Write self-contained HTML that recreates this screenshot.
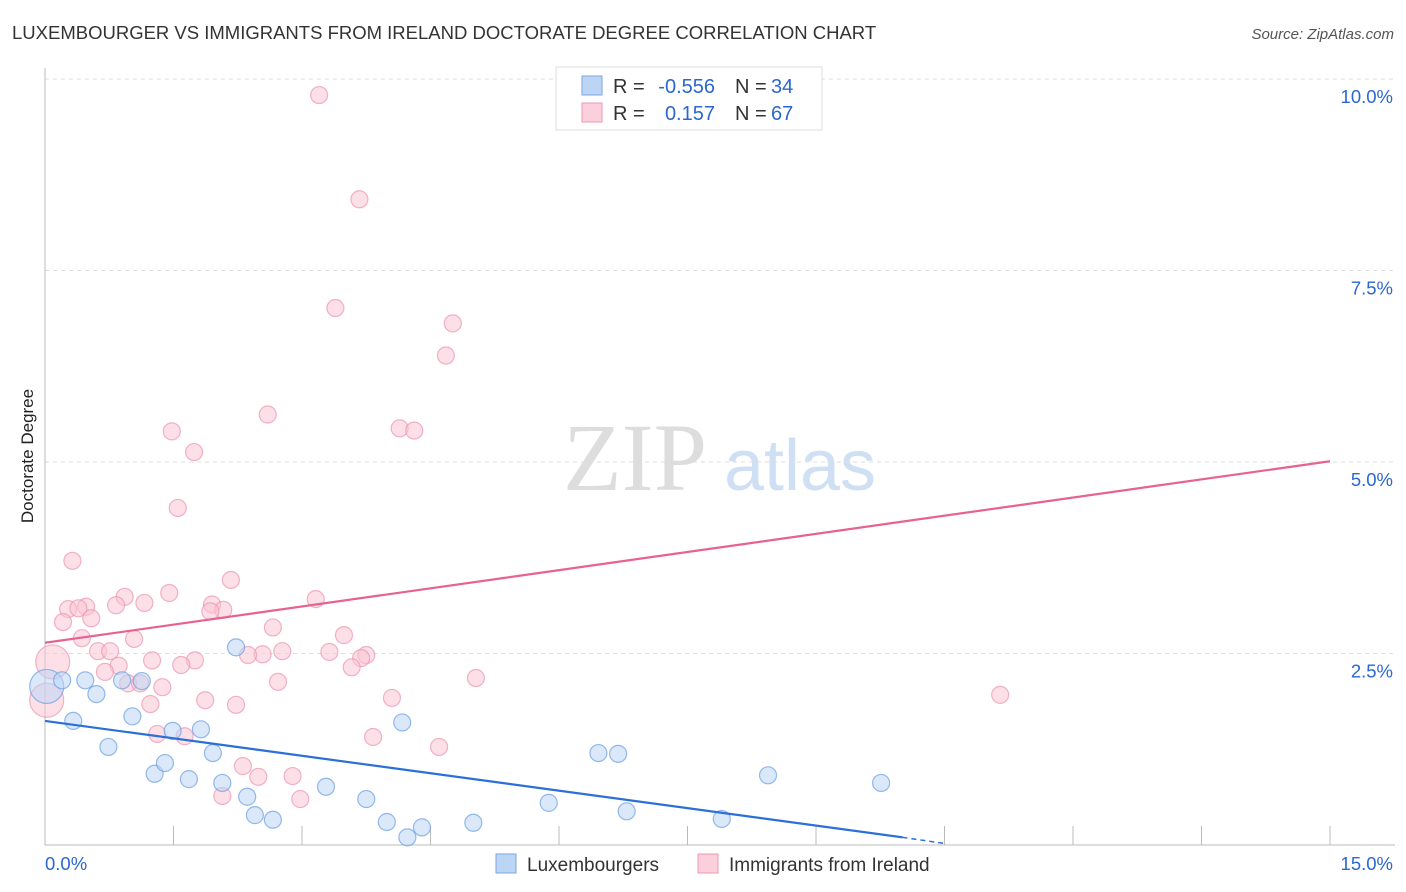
<!DOCTYPE html>
<html><head><meta charset="utf-8"><style>
body{margin:0;background:#fff;font-family:"Liberation Sans",sans-serif;}
#wrap{position:relative;width:1406px;height:892px;overflow:hidden;}
</style></head><body><div id="wrap">
<svg id="svg" width="1406" height="892">
<text x="12" y="39" font-size="18.5" fill="#333">LUXEMBOURGER VS IMMIGRANTS FROM IRELAND DOCTORATE DEGREE CORRELATION CHART</text>
<text x="1394" y="39" font-size="15" fill="#555" font-style="italic" text-anchor="end">Source: ZipAtlas.com</text>
<text x="0" y="0" transform="translate(33,456) rotate(-90)" font-size="17" fill="#222" text-anchor="middle">Doctorate Degree</text>
<g><text x="635" y="490" font-size="96" fill="#ddd" font-family="Liberation Serif,serif" text-anchor="middle">ZIP</text><text x="800" y="490" font-size="72" fill="#cfe0f5" text-anchor="middle">atlas</text></g>
<g id="grid"></g><g id="axes"></g><g id="pts"></g><g id="lines"></g>
<g>
<rect x="556" y="67" width="266" height="63" fill="#fff" stroke="#ddd"/>
<rect x="582" y="76" width="20" height="19" fill="#bcd5f5" stroke="#7aa7e0"/>
<rect x="582" y="103" width="20" height="19" fill="#fccfdc" stroke="#eb9ab3"/>
<g font-size="20" fill="#333">
<text x="613" y="93">R =</text><text x="715" y="93" text-anchor="end" fill="#2b67d0">-0.556</text>
<text x="735" y="93">N =</text><text x="771" y="93" fill="#2b67d0">34</text>
<text x="613" y="120">R =</text><text x="715" y="120" text-anchor="end" fill="#2b67d0">0.157</text>
<text x="735" y="120">N =</text><text x="771" y="120" fill="#2b67d0">67</text>
</g>
</g>
<g>
<rect x="496" y="854" width="20" height="19" fill="#bcd5f5" stroke="#7aa7e0"/>
<text x="527" y="871" font-size="19" fill="#333">Luxembourgers</text>
<rect x="698" y="854" width="20" height="19" fill="#fccfdc" stroke="#eb9ab3"/>
<text x="729" y="871" font-size="19" fill="#333">Immigrants from Ireland</text>
</g>
</svg></div>
<script>
const blueX=[0.02,0.20,0.47,0.60,0.33,0.74,1.02,0.90,1.13,1.28,1.40,1.49,1.68,1.82,1.96,2.07,2.23,2.36,2.45,2.66,3.28,3.75,3.99,4.17,4.23,4.40,5.00,5.88,6.46,6.69,6.79,7.90,8.44,9.76];
const blueY=[2.07,2.15,2.15,1.97,1.62,1.28,1.68,2.15,2.14,0.93,1.07,1.49,0.86,1.51,1.20,0.81,2.58,0.63,0.39,0.33,0.76,0.60,0.30,1.60,0.10,0.23,0.29,0.55,1.20,1.19,0.44,0.34,0.91,0.81];
const blueBig=[0];
const pinkX=[3.20,3.67,3.39,4.76,4.68,2.60,1.48,1.74,4.14,4.31,1.55,0.32,2.17,1.45,0.93,0.83,1.16,0.27,0.48,0.39,1.95,2.08,1.93,3.16,0.21,0.54,2.66,0.43,1.04,3.49,0.62,0.76,0.09,2.54,2.37,2.77,3.32,3.75,3.69,1.25,1.75,1.59,0.86,0.70,3.58,5.03,2.72,0.97,1.11,1.37,11.15,4.05,1.87,1.23,2.23,0.02,1.31,1.63,3.83,4.60,2.31,2.49,2.89,2.07,2.98];
const pinkY=[9.79,8.43,7.01,6.81,6.39,5.62,5.40,5.13,5.44,5.41,4.40,3.71,3.46,3.29,3.24,3.13,3.16,3.08,3.11,3.09,3.14,3.07,3.05,3.21,2.91,2.96,2.84,2.70,2.69,2.74,2.53,2.53,2.39,2.49,2.48,2.53,2.52,2.48,2.44,2.41,2.41,2.35,2.34,2.26,2.32,2.18,2.13,2.11,2.11,2.06,1.96,1.92,1.89,1.84,1.83,1.89,1.45,1.42,1.41,1.28,1.03,0.89,0.90,0.64,0.60];
const pinkBig=[32,55];
const yTicks=[2.5,5.0,7.5,10.0];
const xTickLabels=["0.0%","15.0%"];
const pinkTrend=[2.64,5.01];
const blueTrend=[1.62,0.10,0.02];
const blueTrendX=[0,10.01,10.5];

const NS="http://www.w3.org/2000/svg";
const X0=45,X1=1330,YB=845,YT=79;
const sx=v=>X0+v/15*(X1-X0);
const sy=v=>YB-v/10*(YB-YT);
function mk(tag,attrs,parent){const e=document.createElementNS(NS,tag);for(const k in attrs)e.setAttribute(k,attrs[k]);document.getElementById(parent).appendChild(e);return e;}
yTicks.forEach(t=>{
 const l=mk('line',{x1:X0,x2:1395,y1:sy(t),y2:sy(t),stroke:'#ddd','stroke-dasharray':'4,4'},'grid');
 
 
 const tx=mk('text',{x:1393,y:sy(t)+24,'font-size':18.5,fill:'#2b67d0','text-anchor':'end'},'grid');
 tx.textContent=t.toFixed(1)+'%';
 
 
});
let a=mk('line',{x1:X0,x2:X0,y1:68,y2:YB,stroke:'#bbb'},'axes');


a=mk('line',{x1:X0,x2:1395,y1:YB,y2:YB,stroke:'#bbb'},'axes');


for(let i=1;i<=10;i++){const t=mk('line',{x1:sx(i*1.5),x2:sx(i*1.5),y1:YB-19,y2:YB,stroke:'#bbb'},'axes');
 
 }
let xl=mk('text',{x:45,y:870,'font-size':18.5,fill:'#2b67d0'},'axes');xl.textContent=xTickLabels[0];


xl=mk('text',{x:1393,y:870,'font-size':18.5,fill:'#2b67d0','text-anchor':'end'},'axes');xl.textContent=xTickLabels[1];


function pts(xs,ys,big,fill,stroke,name){xs.forEach((x,i)=>{const r=big.includes(i)?17:8.5;
 const c=mk('circle',{cx:sx(x),cy:sy(ys[i]),r:r,fill:fill,'fill-opacity':0.55,stroke:stroke,'stroke-opacity':0.7,'stroke-width':1.2},'pts');
 
 });}
pts(pinkX,pinkY,pinkBig,'#f9c4d3','#eb94b0','point-ireland');
pts(blueX,blueY,blueBig,'#bcd5f5','#6a9ee0','point-luxembourger');
let tl=mk('line',{x1:sx(0),y1:sy(pinkTrend[0]),x2:sx(15),y2:sy(pinkTrend[1]),stroke:'#e8628f','stroke-width':2.2},'lines');


tl=mk('line',{x1:sx(blueTrendX[0]),y1:sy(blueTrend[0]),x2:sx(blueTrendX[1]),y2:sy(blueTrend[1]),stroke:'#2b6fd8','stroke-width':2.2},'lines');


tl=mk('line',{x1:sx(blueTrendX[1]),y1:sy(blueTrend[1]),x2:sx(blueTrendX[2]),y2:sy(blueTrend[2]),stroke:'#2b6fd8','stroke-width':1.5,'stroke-dasharray':'5,4'},'lines');


</script></body></html>
